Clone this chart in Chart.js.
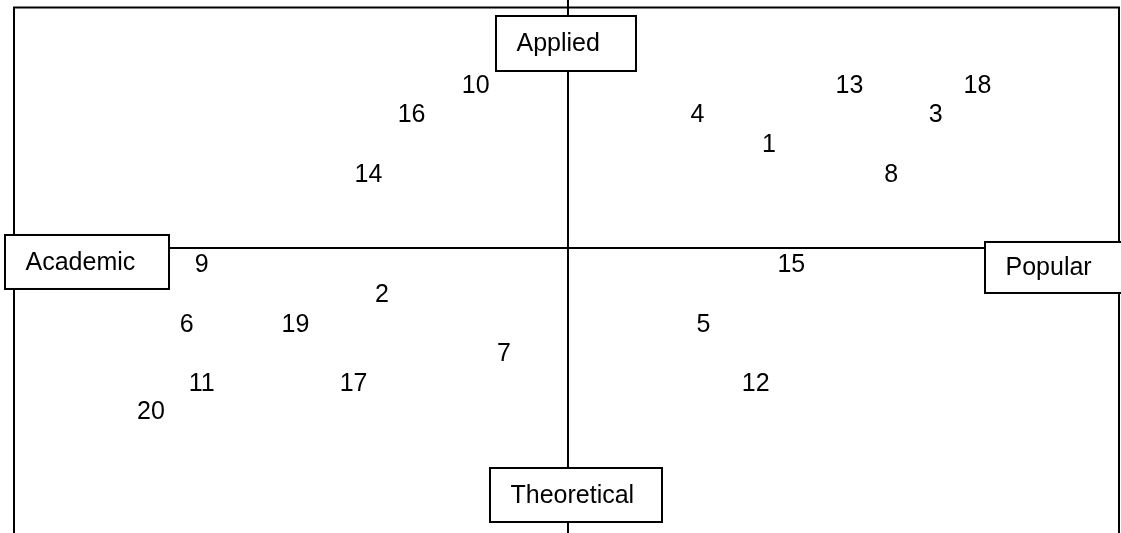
<!DOCTYPE html>
<html>
<head>
<meta charset="utf-8">
<title>Quadrant map</title>
<script src="https://cdn.jsdelivr.net/npm/chart.js@4.4.1/dist/chart.umd.min.js"></script>
<style>
    html, body { margin: 0; padding: 0; background: #fff; }
    #wrap { width: 1121px; height: 533px; }
</style>
</head>
<body>
<div id="wrap"><canvas id="mapa"></canvas></div>
<script>
// item numbers and their position on the two axes
const items = ['1', '2', '3', '4', '5', '6', '7', '8', '9', '10',
               '11', '12', '13', '14', '15', '16', '17', '18', '19', '20'];
// academic (-) ... popular (+)
const xValues = [6.75, -6.25, 12.35, 4.35, 4.55, -12.8, -2.15, 10.85, -12.3, -3.1,
                 -12.3, 6.3, 9.45, -6.7, 7.5, -5.25, -7.2, 13.75, -9.15, -14.0];
// theoretical (-) ... applied (+)
const yValues = [3.5, -1.55, 4.5, 4.5, -2.55, -2.55, -3.55, 2.5, -0.55, 5.5,
                 -4.55, -4.55, 5.5, 2.5, -0.55, 4.5, -4.55, 5.5, -2.55, -5.5];

const axisNames = { top: 'Applied', right: 'Popular', bottom: 'Theoretical', left: 'Academic' };
const xRange = [-18.6, 18.5];
const yRange = [-9.6, 8.1];

const FONT = '25px "Liberation Sans", Arial, sans-serif';

const quadrantPlugin = {
    id: 'quadrant',
    beforeDatasetsDraw(chart) {
        const { ctx, chartArea: a, scales } = chart;
        const x0 = scales.x.getPixelForValue(0);
        const y0 = scales.y.getPixelForValue(0);

        ctx.save();
        ctx.strokeStyle = '#000';
        ctx.lineWidth = 2;
        ctx.beginPath();
        // frame (open at the bottom)
        ctx.moveTo(a.left, chart.height);
        ctx.lineTo(a.left, a.top);
        ctx.lineTo(a.right, a.top);
        ctx.lineTo(a.right, chart.height);
        // axes
        ctx.moveTo(x0, 0);
        ctx.lineTo(x0, chart.height);
        ctx.moveTo(a.left, y0);
        ctx.lineTo(a.right, y0);
        ctx.stroke();

        // boxes with the pole names
        const boxes = [
            { text: axisNames.top, x: x0 - 72, y: a.top + 8.5, w: 140, h: 55 },
            { text: axisNames.left, x: a.left - 9, y: y0 - 13, w: 164, h: 54 },
            { text: axisNames.right, x: a.right - 134, y: y0 - 6, w: 160, h: 51 },
            { text: axisNames.bottom, x: x0 - 78, y: chart.height - 65, w: 172, h: 54 }
        ];
        ctx.font = FONT;
        ctx.textAlign = 'left';
        ctx.textBaseline = 'middle';
        boxes.forEach(b => {
            ctx.fillStyle = '#fff';
            ctx.fillRect(b.x, b.y, b.w, b.h);
            ctx.strokeRect(b.x, b.y, b.w, b.h);
            ctx.fillStyle = '#000';
            ctx.fillText(b.text, b.x + 20.5, b.y + b.h / 2 + 1);
        });
        ctx.restore();
    },
    afterDatasetsDraw(chart) {
        const { ctx } = chart;
        const meta = chart.getDatasetMeta(0);
        ctx.save();
        ctx.font = FONT;
        ctx.fillStyle = '#000';
        ctx.textAlign = 'center';
        ctx.textBaseline = 'middle';
        meta.data.forEach((pt, i) => {
            ctx.fillText(items[i], pt.x, pt.y + 1);
        });
        ctx.restore();
    }
};

new Chart(document.getElementById('mapa'), {
    type: 'scatter',
    data: {
        datasets: [{
            label: 'Items',
            data: items.map((n, i) => ({ x: xValues[i], y: yValues[i] })),
            pointRadius: 0,
            pointHoverRadius: 0
        }]
    },
    options: {
        responsive: true,
        maintainAspectRatio: false,
        animation: false,
        layout: { padding: { left: 14, right: 2, top: 7.5, bottom: 0 } },
        plugins: {
            legend: { display: false },
            tooltip: { enabled: false }
        },
        scales: {
            x: { type: 'linear', min: xRange[0], max: xRange[1], display: false },
            y: { type: 'linear', min: yRange[0], max: yRange[1], display: false }
        }
    },
    plugins: [quadrantPlugin]
});
</script>
</body>
</html>
